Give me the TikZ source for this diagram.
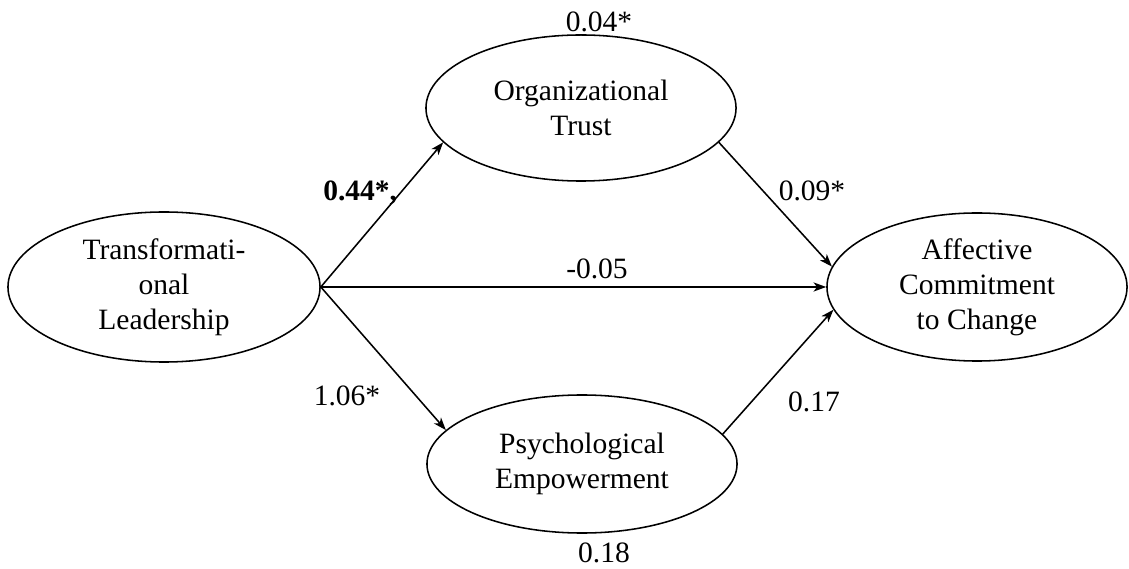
\documentclass[tikz,border=0pt]{standalone}
\usepackage{fontspec}
\setmainfont{Liberation Serif}
\usetikzlibrary{shapes.geometric,arrows,arrows.meta,positioning}
\tikzstyle{latent} = [ellipse,draw,line width=1.1pt,align=center,inner sep=0pt,font=\fontsize{21}{25}\selectfont]
\tikzstyle{coef} = [inner sep=0pt,font=\fontsize{21}{25}\selectfont]
\tikzstyle{arrow} = [line width=1.1pt,->,>={Stealth[length=9pt,width=6.5pt,inset=2.5pt]}]

\begin{document}
\begin{tikzpicture}[x=0.025cm,y=-0.025cm]
\useasboundingbox (0,0) rectangle (1129,569);

\node[latent,minimum width=7.8cm,minimum height=3.75cm] (tl) at (164,287) {Transformati-\\onal\\Leadership};
\node[latent,minimum width=7.75cm,minimum height=3.65cm] (ot) at (581,108) {Organizational\\Trust};
\node[latent,minimum width=7.75cm,minimum height=3.45cm] (pe) at (582,464) {Psychological\\Empowerment};
\node[latent,minimum width=7.5cm,minimum height=3.7cm] (ac) at (977,287) {Affective\\Commitment\\to Change};

\draw [arrow] (tl.east) -- (ot.194);
\draw [arrow] (tl.east) -- (ac.west);
\draw [arrow] (tl.east) -- (pe.166);
\draw [arrow] (ot.346) -- (ac.172);
\draw [arrow] (pe.12) -- (ac.189);

\node[coef] (r2ot) at (599,22) {0.04*};
\node[coef,anchor=west] (tlot) at (323,193) {\textbf{0.44*,}};
\node[coef] (otac) at (812,191) {0.09*};
\node[coef] (tlac) at (597,269) {-0.05};
\node[coef] (tlpe) at (347,396) {1.06*};
\node[coef] (peac) at (814,402) {0.17};
\node[coef] (r2pe) at (604,553) {0.18};
\end{tikzpicture}
\end{document}
